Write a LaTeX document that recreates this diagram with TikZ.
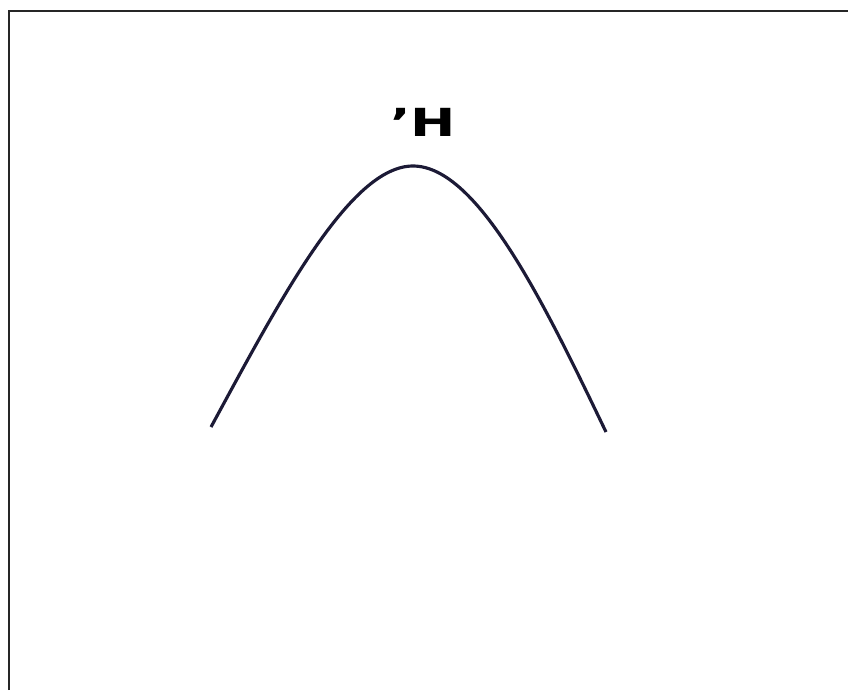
\documentclass[tikz,border=0pt]{standalone}
\usepackage{fontspec}
\setmainfont{DejaVu Sans}
\usetikzlibrary{positioning}
\definecolor{curvecol}{HTML}{1C1A36}
\tikzset{
  frm/.style={draw=black!85, line width=1.2pt},
  crv/.style={draw=curvecol, line width=1.8pt},
  hlab/.style={font=\fontsize{22}{24}\selectfont\bfseries, inner sep=0pt, xscale=1.4}
}

\begin{document}
\begin{tikzpicture}[x=0.02cm, y=-0.02cm]
		\useasboundingbox (0,0) rectangle (848,690);
		\draw[frm] (9,690) -- (9,11) -- (848,11);
		\coordinate (lft) at (211,427);
		\coordinate (top) at (413,166);
		\coordinate (rgt) at (606,432);
		\node[hlab] (h) at (423,122) {'H};
		\draw[crv] (lft) .. controls (280,300) and (350,166) .. (top)
			.. controls (478,166) and (545,305) .. (rgt);
	\end{tikzpicture}
\end{document}
